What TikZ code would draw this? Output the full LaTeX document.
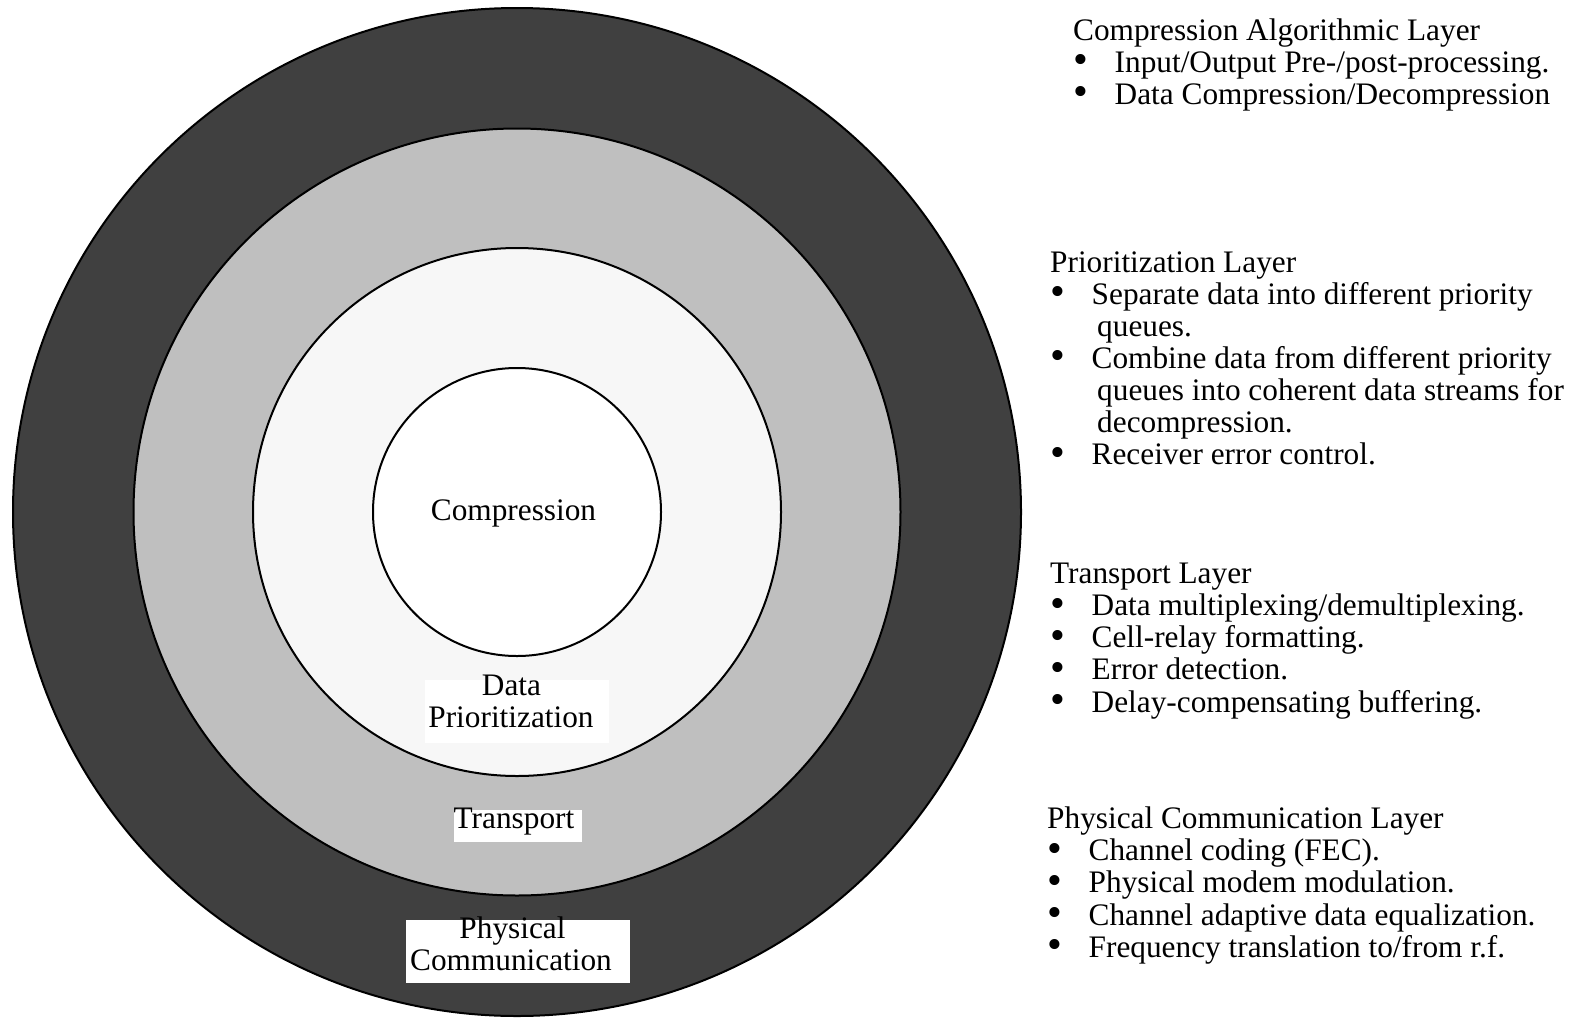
\documentclass[tikz,border=0pt]{standalone}
\usepackage{graphicx}
\usepackage{fontspec}
\setmainfont{Liberation Serif}
\definecolor{ringdark}{HTML}{404040}
\definecolor{ringgray}{HTML}{BFBFBF}
\definecolor{ringlight}{HTML}{F7F7F7}
\newcommand{\labfont}{\fontsize{31.3}{32.1}\selectfont}
\newcommand{\bul}{\makebox[41.5pt][l]{\raisebox{-1.6pt}{\scalebox{1.35}{\textbullet}}}}
\newcommand{\cont}{\hspace*{47pt}}
\begin{document}
\begin{tikzpicture}[x=1pt,y=-1pt,
  ring/.style={draw=black,line width=2pt},
  lbl/.style={inner sep=0pt,font=\labfont,anchor=base},
  info/.style={inner sep=0pt,anchor=base west,font=\labfont}]
\useasboundingbox (0,0) rectangle (1575,1018);
\fill[white] (0,0) rectangle (1575,1018);
\coordinate (c) at (517,512);
\draw[ring,fill=ringdark] (c) circle[radius=504pt];
\draw[ring,fill=ringgray] (c) circle[radius=383.5pt];
\draw[ring,fill=ringlight] (c) circle[radius=264pt];
\draw[ring,fill=white] (c) circle[radius=144pt];
% white label patches
\fill[white] (425,680) rectangle (609,743);
\fill[white] (454,810) rectangle (582,842);
\fill[white] (406,920) rectangle (630,983);
% ring labels
\node[lbl] (comp) at (513.5,520) {Compression};
\node[lbl] (dp1) at (511.5,695) {Data};
\node[lbl] (dp2) at (511,727) {Prioritization};
\node[lbl] (tr) at (514,828) {Transport};
\node[lbl] (ph1) at (512.5,938) {Physical};
\node[lbl] (ph2) at (511,970) {Communication};
% right-hand descriptions
\node[info] (blk1) at (1073,40) {\begin{tabular}[t]{@{}l@{}}
Compression Algorithmic Layer\\
\bul Input/Output Pre-/post-processing.\\
\bul Data Compression/Decompression
\end{tabular}};
\node[info] (blk2) at (1050,272) {\begin{tabular}[t]{@{}l@{}}
Prioritization Layer\\
\bul Separate data into different priority\\
\cont queues.\\
\bul Combine data from different priority\\
\cont queues into coherent data streams for\\
\cont decompression.\\
\bul Receiver error control.
\end{tabular}};
\node[info] (blk3) at (1050,583.6) {\begin{tabular}[t]{@{}l@{}}
Transport Layer\\
\bul Data multiplexing/demultiplexing.\\
\bul Cell-relay formatting.\\
\bul Error detection.\\
\bul Delay-compensating buffering.
\end{tabular}};
\node[info] (blk4) at (1047,828.7) {\begin{tabular}[t]{@{}l@{}}
Physical Communication Layer\\
\bul Channel coding (FEC).\\
\bul Physical modem modulation.\\
\bul Channel adaptive data equalization.\\
\bul Frequency translation to/from r.f.
\end{tabular}};
\end{tikzpicture}
\end{document}
